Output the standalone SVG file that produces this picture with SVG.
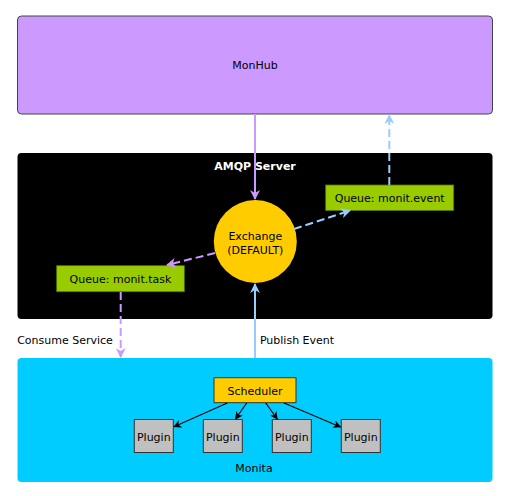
<svg xmlns="http://www.w3.org/2000/svg" width="508" height="496" viewBox="0 0 508 496">
<defs>
<style>
text{font-family:"DejaVu Sans","Liberation Sans",sans-serif;font-size:11px;text-anchor:middle;fill:#000}
.big{stroke:#444;stroke-width:1}
.q{fill:#99cc00;stroke:#557700;stroke-width:0.8}
.pl{fill:#c0c0c0;stroke:#333;stroke-width:1}
.pc{stroke:#cc99ff;stroke-width:2;fill:none}
.bc{stroke:#99ccff;stroke-width:2;fill:none}
.dash{stroke-dasharray:8,4}
.kc{stroke:#000;stroke-width:1.2;fill:none}
</style>
<marker id="ap" viewBox="0 0 10 10" refX="9" refY="5" markerWidth="5" markerHeight="5" orient="auto" markerUnits="strokeWidth"><path d="M0,0 L10,5 L0,10 L3,5 z" fill="#cc99ff"/></marker>
<marker id="ab" viewBox="0 0 10 10" refX="9" refY="5" markerWidth="5" markerHeight="5" orient="auto" markerUnits="strokeWidth"><path d="M0,0 L10,5 L0,10 L3,5 z" fill="#99ccff"/></marker>
<marker id="ak" viewBox="0 0 10 10" refX="9" refY="5" markerWidth="8" markerHeight="8" orient="auto" markerUnits="userSpaceOnUse"><path d="M0,0 L10,5 L0,10 L3,5 z" fill="#000"/></marker>
</defs>
<rect width="508" height="496" fill="#fff"/>
<g id="monhub">
<rect class="big" x="17.5" y="16" width="475" height="98" rx="4" fill="#cc99ff"/>
<text x="255" y="69">MonHub</text>
</g>
<g id="amqp">
<rect x="17.5" y="153" width="475" height="166" rx="4" fill="#000"/>
<text x="255" y="170" style="fill:#fff;font-weight:bold">AMQP Server</text>
</g>
<g id="monita">
<rect x="17.5" y="358" width="475" height="124" rx="4" fill="#00ccff"/>
<text x="254" y="472">Monita</text>
</g>
<g id="exchange">
<circle cx="255.3" cy="241.5" r="41.5" fill="#ffcc00"/>
<text x="255.3" y="240">Exchange</text>
<text x="255.3" y="254">(DEFAULT)</text>
</g>
<g id="queue-event">
<rect class="q" x="325.7" y="185" width="128" height="25.5"/>
<text x="389.7" y="202">Queue: monit.event</text>
</g>
<g id="queue-task">
<rect class="q" x="56.7" y="265.7" width="127.6" height="26"/>
<text x="120.5" y="282.5">Queue: monit.task</text>
</g>
<g id="scheduler">
<rect x="214" y="377.7" width="82" height="25" fill="#ffcc00" stroke="#333" stroke-width="1"/>
<text x="255" y="394.5">Scheduler</text>
</g>
<g id="plugin1"><rect class="pl" x="134.3" y="419.5" width="39" height="33"/><text x="153.8" y="440.5">Plugin</text></g>
<g id="plugin2"><rect class="pl" x="203.3" y="419.5" width="39" height="33"/><text x="222.8" y="440.5">Plugin</text></g>
<g id="plugin3"><rect class="pl" x="272.3" y="419.5" width="39" height="33"/><text x="291.8" y="440.5">Plugin</text></g>
<g id="plugin4"><rect class="pl" x="341.3" y="419.5" width="39" height="33"/><text x="360.8" y="440.5">Plugin</text></g>
<g id="connectors">
<line class="pc" x1="255" y1="114" x2="255" y2="199" marker-end="url(#ap)"/>
<line class="bc dash" x1="389.3" y1="185" x2="389.3" y2="115" marker-end="url(#ab)"/>
<line class="bc dash" x1="294" y1="229" x2="350" y2="210.5" marker-end="url(#ab)"/>
<line class="pc dash" x1="215" y1="253" x2="167" y2="265" marker-end="url(#ap)"/>
<line class="pc dash" x1="120.7" y1="292" x2="120.7" y2="357" marker-end="url(#ap)"/>
<line class="bc" x1="255" y1="358" x2="255" y2="284" marker-end="url(#ab)"/>
<line class="kc" x1="227.3" y1="403" x2="174" y2="426.7" marker-end="url(#ak)"/>
<line class="kc" x1="246.7" y1="403" x2="235.5" y2="419" marker-end="url(#ak)"/>
<line class="kc" x1="265.7" y1="403" x2="277.3" y2="419" marker-end="url(#ak)"/>
<line class="kc" x1="284" y1="403" x2="340.5" y2="427" marker-end="url(#ak)"/>
<text x="65" y="344" style="text-anchor:middle">Consume Service</text>
<text x="297" y="344" style="text-anchor:middle">Publish Event</text>
</g>
</svg>
